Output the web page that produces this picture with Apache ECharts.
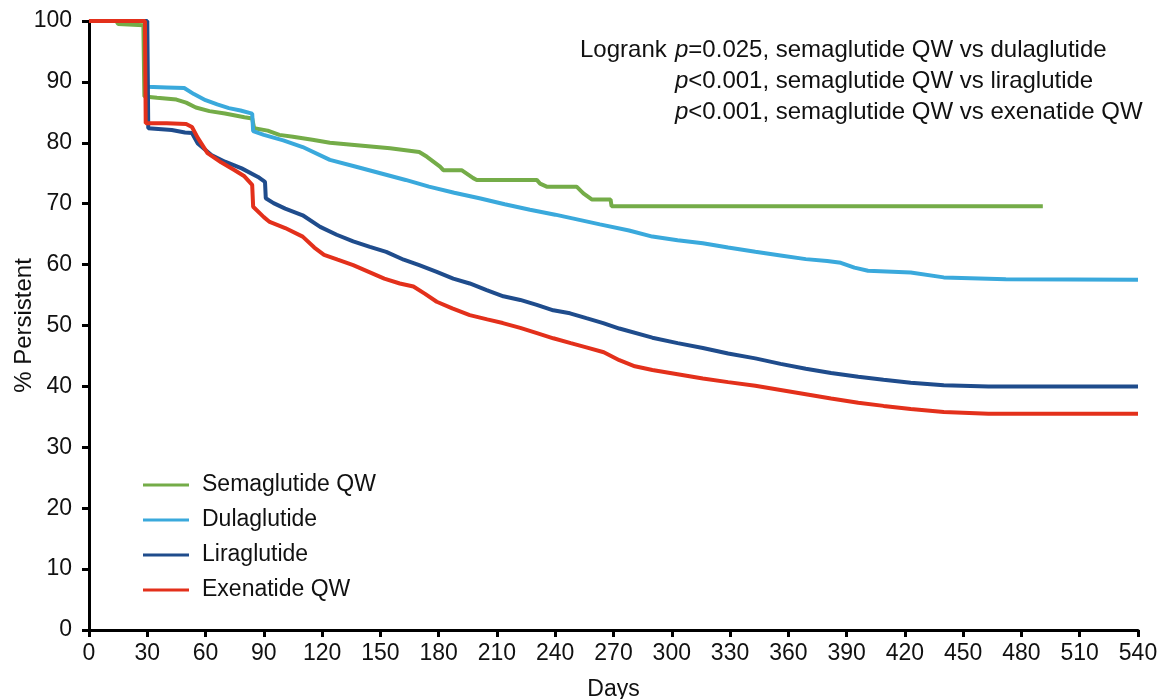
<!DOCTYPE html>
<html>
<head>
<meta charset="utf-8">
<title>Persistence</title>
<script src="https://cdn.jsdelivr.net/npm/echarts@6/dist/echarts.min.js"></script>
<style>
  html, body { margin: 0; padding: 0; background: #fff; }
  #chart { width: 1162px; height: 699px; }
</style>
</head>
<body>
<div id="chart"></div>
<script>
// days vs % persistent
var seriesNames = ['Semaglutide QW', 'Dulaglutide', 'Liraglutide', 'Exenatide QW'];
var seriesColors = ['#74ac48', '#3aa9dc', '#1f4c8c', '#e3301b'];

var semaglutide = [[0,100],[14,100],[15,99.5],[28,99.3],[28.5,87.6],[35,87.4],[45,87.1],[50,86.6],[55,85.8],[62,85.2],
  [70,84.8],[80,84.2],[84,84.0],[85,82.4],[92,82.0],[98,81.3],[105,81.0],[115,80.5],[124,80.0],[138,79.6],[155,79.1],
  [170,78.5],[174,77.7],[180.7,76.1],[182.4,75.5],[191.8,75.5],[197.8,74.2],[199.6,73.9],[230.5,73.9],[232.2,73.3],
  [235.6,72.8],[251,72.8],[254.5,71.7],[258.8,70.7],[268.5,70.7],[269,69.6],[491,69.6]];

var dulaglutide = [[0,100],[29.5,100],[29.8,89.2],[40,89.1],[49,89.0],[54,88.0],[60,87.0],[66,86.3],[72,85.7],[78,85.3],
  [84,84.8],[84.5,81.9],[90,81.3],[100,80.4],[110,79.3],[124,77.2],[137,76.1],[150,75.0],[163,73.9],[175,72.8],
  [188,71.8],[201,70.9],[214,69.9],[227,69.0],[240,68.2],[253,67.3],[263,66.6],[278,65.6],[290,64.6],[303,64.0],
  [316,63.5],[329,62.8],[343,62.1],[356,61.5],[369,60.9],[380,60.6],[387,60.3],[394,59.5],[401,59.0],[423,58.7],
  [440,57.9],[472,57.6],[540,57.5]];

var liraglutide = [[0,100],[30,100],[30.5,82.4],[42.6,82.1],[49.4,81.7],[53,81.6],[56,79.9],[63,78.0],[70,76.9],
  [78.6,75.8],[87,74.4],[90.6,73.6],[91,70.9],[95,70.1],[101,69.2],[110,68.1],[119,66.2],[127.5,64.9],[136,63.8],
  [144.6,62.9],[153,62.1],[162,60.8],[170,59.9],[179,58.8],[187.5,57.7],[196,56.9],[204.7,55.8],[213.3,54.8],
  [222,54.2],[230.5,53.4],[239,52.5],[247.6,52.0],[256,51.2],[264.7,50.4],[273,49.5],[290,48.0],[303,47.1],
  [316,46.3],[329,45.4],[343,44.6],[356,43.7],[369,42.9],[382,42.2],[396,41.6],[409,41.1],[423,40.6],
  [440,40.2],[463,40.0],[540,40.0]];

var exenatide = [[0,100],[28.8,100],[29.2,83.2],[40,83.2],[50,83.1],[53,82.6],[56,80.8],[61,78.3],[68,76.8],[75,75.5],
  [80,74.5],[84,73.1],[84.5,69.5],[90,67.8],[93,67.0],[101,66.0],[110,64.6],[116,62.8],[121,61.6],[128,60.8],
  [136,59.9],[144,58.8],[152,57.7],[160,56.9],[167,56.4],[173,55.2],[179,53.9],[187,52.8],[196,51.7],[205,51.0],
  [213,50.4],[222,49.6],[231,48.7],[239,47.9],[248,47.1],[256,46.4],[265,45.6],[273,44.3],[281,43.3],[290,42.7],
  [303,42.0],[316,41.3],[329,40.7],[343,40.1],[356,39.4],[369,38.7],[382,38.0],[396,37.3],[409,36.8],[423,36.3],
  [440,35.8],[463,35.5],[540,35.5]];

var seriesData = [semaglutide, dulaglutide, liraglutide, exenatide];

var pLines = [
  '{i|p}=0.025, semaglutide QW vs dulaglutide',
  '{i|p}<0.001, semaglutide QW vs liraglutide',
  '{i|p}<0.001, semaglutide QW vs exenatide QW'
];

var FONT = 'Arial, "Liberation Sans", sans-serif';

var myChart = echarts.init(document.getElementById('chart'));

var series = [];
for (var i = 0; i < seriesNames.length; i++) {
  series.push({
    name: seriesNames[i],
    type: 'line',
    data: seriesData[i],
    showSymbol: false,
    symbol: 'none',
    animation: false,
    lineStyle: { color: seriesColors[i], width: 4 },
    itemStyle: { color: seriesColors[i] },
    z: 2 + i   // exenatide drawn on top, as in the original
  });
}

var graphics = [{
  type: 'text', left: 580, top: 38,
  style: { text: 'Logrank', fontSize: 24, fontFamily: FONT, fill: '#111' }
}];
for (var k = 0; k < pLines.length; k++) {
  graphics.push({
    type: 'text', left: 675, top: 38 + k * 31,
    style: {
      text: pLines[k], fontSize: 24, fontFamily: FONT, fill: '#111',
      rich: { i: { fontStyle: 'italic', fontSize: 24, fontFamily: FONT, fill: '#111' } }
    }
  });
}

var option = {
  backgroundColor: '#fff',
  animation: false,
  grid: { left: 89, right: 24, top: 21, bottom: 69, containLabel: false, outerBoundsMode: 'none' },
  legend: {
    orient: 'vertical',
    left: 143, top: 473,
    padding: 0,
    itemWidth: 46, itemHeight: 3,
    itemGap: 11,
    icon: 'rect',
    data: seriesNames,
    textStyle: { fontSize: 23, fontFamily: FONT, color: '#111', lineHeight: 24, padding: [0, 0, 0, 8] }
  },
  xAxis: {
    type: 'value',
    min: 0, max: 540, interval: 30,
    name: 'Days',
    nameLocation: 'middle',
    nameGap: 48,
    nameMoveOverlap: false,
    nameTextStyle: { fontSize: 23, fontFamily: FONT, color: '#111' },
    splitLine: { show: false },
    axisLine: { show: true, lineStyle: { color: '#000', width: 3 } },
    axisTick: { show: true, length: 7, lineStyle: { color: '#000', width: 3 } },
    axisLabel: { fontSize: 23, fontFamily: FONT, color: '#111', margin: 12 }
  },
  yAxis: {
    type: 'value',
    min: 0, max: 100, interval: 10,
    name: '% Persistent',
    nameLocation: 'middle',
    nameGap: 53,
    nameMoveOverlap: false,
    nameTextStyle: { fontSize: 24, fontFamily: FONT, color: '#111' },
    splitLine: { show: false },
    axisLine: { show: true, lineStyle: { color: '#000', width: 3 } },
    axisTick: { show: true, length: 7, lineStyle: { color: '#000', width: 3 } },
    axisLabel: { fontSize: 23, fontFamily: FONT, color: '#111', margin: 17 }
  },
  graphic: graphics,
  series: series
};

myChart.setOption(option);
</script>
</body>
</html>
